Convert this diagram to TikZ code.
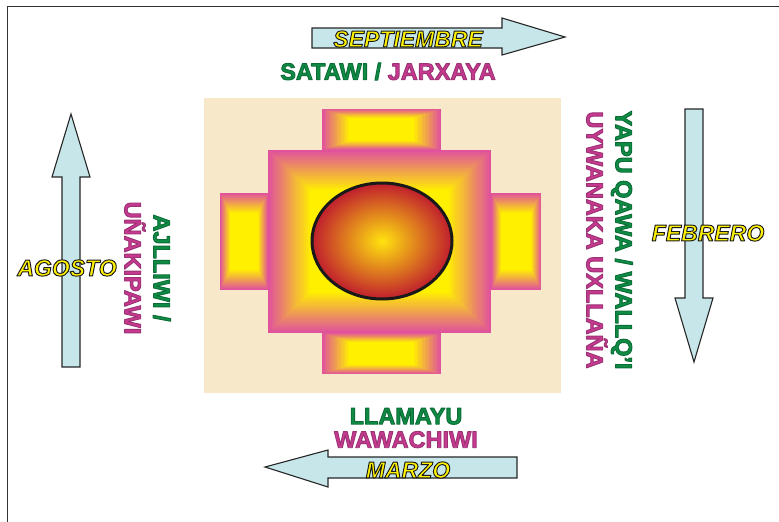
\documentclass[tikz,border=0pt]{standalone}
\usepackage{fontspec}
\setmainfont{Liberation Sans}
\definecolor{beige}{HTML}{F8E8CA}
\definecolor{edgepink}{HTML}{E0529C}
\definecolor{padyellow}{HTML}{FFF000}
\definecolor{arrowblue}{HTML}{C6E6E9}
\definecolor{aymgreen}{HTML}{0E8C43}
\definecolor{aymmagenta}{HTML}{C6398F}
\definecolor{monthyellow}{HTML}{FFF200}
\definecolor{sunred}{HTML}{C01E2D}
\definecolor{sunyellow}{HTML}{FFE30F}

% rectangle shaded from pink at its edge to yellow inside
\newcommand{\gradrect}[6]{%
  \foreach \i in {0,...,20}{
    \pgfmathsetmacro\t{\i/20}
    \pgfmathtruncatemacro\mix{100-5*\i}
    \fill[edgepink!\mix!padyellow] ({#1+\t*#5},{#2+\t*#6}) rectangle ({#3-\t*#5},{#4-\t*#6});
  }}
% filled text with an outline: fill colour, stroke rgb, stroke width, text
\newcommand{\outlinetxt}[4]{\textcolor{#1}{\special{pdf:literal direct #2 RG #3 w 1 j 2 Tr}#4\special{pdf:literal direct 0 Tr}}}
\newcommand{\grntxt}[1]{\outlinetxt{aymgreen}{0.05 0.42 0.22}{0.9}{#1}}
\newcommand{\magtxt}[1]{\outlinetxt{aymmagenta}{0.6 0.2 0.45}{0.9}{#1}}
\newcommand{\monthtxt}[1]{\outlinetxt{monthyellow}{0.1 0.1 0.1}{0.95}{#1}}

\tikzset{
  month/.style={inner sep=0pt, font=\fontsize{23}{27}\selectfont\bfseries\itshape},
  season/.style={inner sep=0pt, align=center, font=\fontsize{23.5}{29}\selectfont\bfseries},
  blockarrow/.style={fill=arrowblue, draw=black!85, line width=1.1pt, line join=miter},
  frameline/.style={draw=black!80, line width=1.6pt}
}

\begin{document}
\begin{tikzpicture}[x=1pt, y=-1pt]
\useasboundingbox (0,0) rectangle (779,522);

% frame
\draw[frameline] (7.5,522) -- (7.5,6.5) -- (779,6.5);

% chakana on beige pad
\fill[beige] (204,98) rectangle (561,393);
\gradrect{322}{109}{441}{150}{27}{9}
\gradrect{322}{333}{441}{374}{27}{9}
\gradrect{220}{193}{268}{290}{10}{20}
\gradrect{491}{193}{541}{290}{10}{20}
\gradrect{268}{150}{491}{333}{42}{40}
\shade[inner color=sunyellow, outer color=sunred] (382,241) ellipse [x radius=70, y radius=58];
\draw[black!90, line width=3pt] (382,241) ellipse [x radius=70, y radius=58];

% arrows
\draw[blockarrow] (312,28) -- (502,28) -- (502,18) -- (565,37) -- (502,55) -- (502,48) -- (312,48) -- cycle;
\draw[blockarrow] (685,109) -- (703,109) -- (703,298) -- (713,298) -- (694,362) -- (675,298) -- (685,298) -- cycle;
\draw[blockarrow] (517,457) -- (328,457) -- (328,450) -- (265,467) -- (328,487) -- (328,478) -- (517,478) -- cycle;
\draw[blockarrow] (62,367) -- (62,177) -- (52,177) -- (71,114) -- (90,177) -- (80,177) -- (80,367) -- cycle;

% months
\node[month] (sep) at (408,39) {\monthtxt{SEPTIEMBRE}};
\node[month] (feb) at (708,233) {\monthtxt{FEBRERO}};
\node[month] (mar) at (408,470) {\monthtxt{MARZO}};
\node[month] (ago) at (67,268) {\monthtxt{AGOSTO}};

% seasons
\node[season] (top) at (388,71.5) {\grntxt{SATAWI /} \magtxt{JARXAYA}};
\node[season, rotate=-90] (right) at (609.5,240) {\grntxt{YAPU QAWA / WALLQ'I}\\\magtxt{UYWANAKA UXLLAÑA}};
\node[season, font=\fontsize{23.5}{23.5}\selectfont\bfseries] (bottom) at (406,428) {\grntxt{LLAMAYU}\\\magtxt{WAWACHIWI}};
\node[season, rotate=-90] (left) at (147.5,268) {\grntxt{AJLLIWI /}\\\magtxt{UÑAKIPAWI}};

\end{tikzpicture}
\end{document}
